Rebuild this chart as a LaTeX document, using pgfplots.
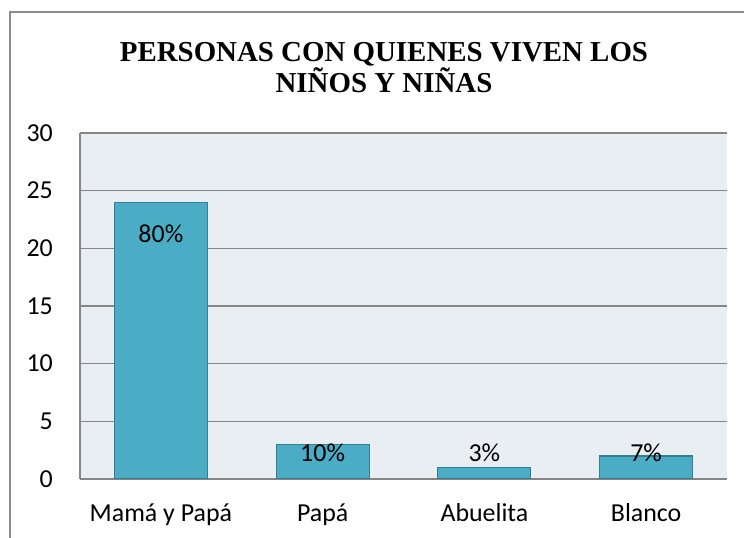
\documentclass[border=0pt]{standalone}
\usepackage{pgfplots}
\pgfplotsset{compat=1.18}
\usepackage{fontspec}
\setmainfont{Carlito}
\newfontfamily\titlefont{Liberation Serif}
\definecolor{barfill}{HTML}{4BACC6}
\definecolor{baredge}{HTML}{357D91}
\definecolor{plotbg}{HTML}{E8EEF2}
\definecolor{gridc}{HTML}{868686}
\definecolor{framec}{HTML}{8C8C8C}

\begin{document}
\begin{tikzpicture}[x=1bp,y=1bp]
\useasboundingbox (0,0) rectangle (744,538);
\fill[plotbg] (80,59) rectangle (727,405);
\draw[framec,line width=1.2bp] (10,0) -- (10,526) -- (744,526);
\node[font=\titlefont\bfseries\fontsize{29}{33}\selectfont,anchor=base,inner sep=0pt]
  at (384,476) {PERSONAS CON QUIENES VIVEN LOS};
\node[font=\titlefont\bfseries\fontsize{29}{33}\selectfont,anchor=base,inner sep=0pt]
  at (384,445) {NIÑOS Y NIÑAS};
\begin{axis}[at={(80bp,59bp)},anchor=south west,scale only axis,
  width=647bp,height=346bp,
  xmin=-0.5,xmax=3.5,ymin=0,ymax=30,
  ytick={0,5,10,15,20,25,30},
  xtick={0,1,2,3},
  xticklabels={Mamá y Papá,Papá,Abuelita,Blanco},
  axis x line=bottom,axis y line=left,
  axis line style={-,gridc,line width=1.6bp},
  ymajorgrids,grid style={gridc,line width=1.4bp},
  xtick style={draw=none},
  ytick style={draw=none},
  major tick length=0pt,
  /pgf/number format/assume math mode=true,
  tick label style={font=\fontsize{26}{31}\selectfont,inner sep=0pt},
  yticklabel style={anchor=east,xshift=-27bp},
  xticklabel style={anchor=base,yshift=-43bp},
  clip=true]
\addplot[ybar,bar width=93bp,fill=barfill,draw=baredge,line width=1.2bp]
  coordinates {(0,24) (1,3) (2,1) (3,2)};
\addplot[draw=none,mark=none,nodes near coords,point meta=explicit symbolic,
  nodes near coords align=center,
  every node near coord/.append style={font=\fontsize{26}{31}\selectfont,inner sep=0pt}]
  coordinates {(0,21.3)[80\%] (1,2.3)[10\%] (2,2.3)[3\%] (3,2.3)[7\%]};
\end{axis}
\end{tikzpicture}
\end{document}
